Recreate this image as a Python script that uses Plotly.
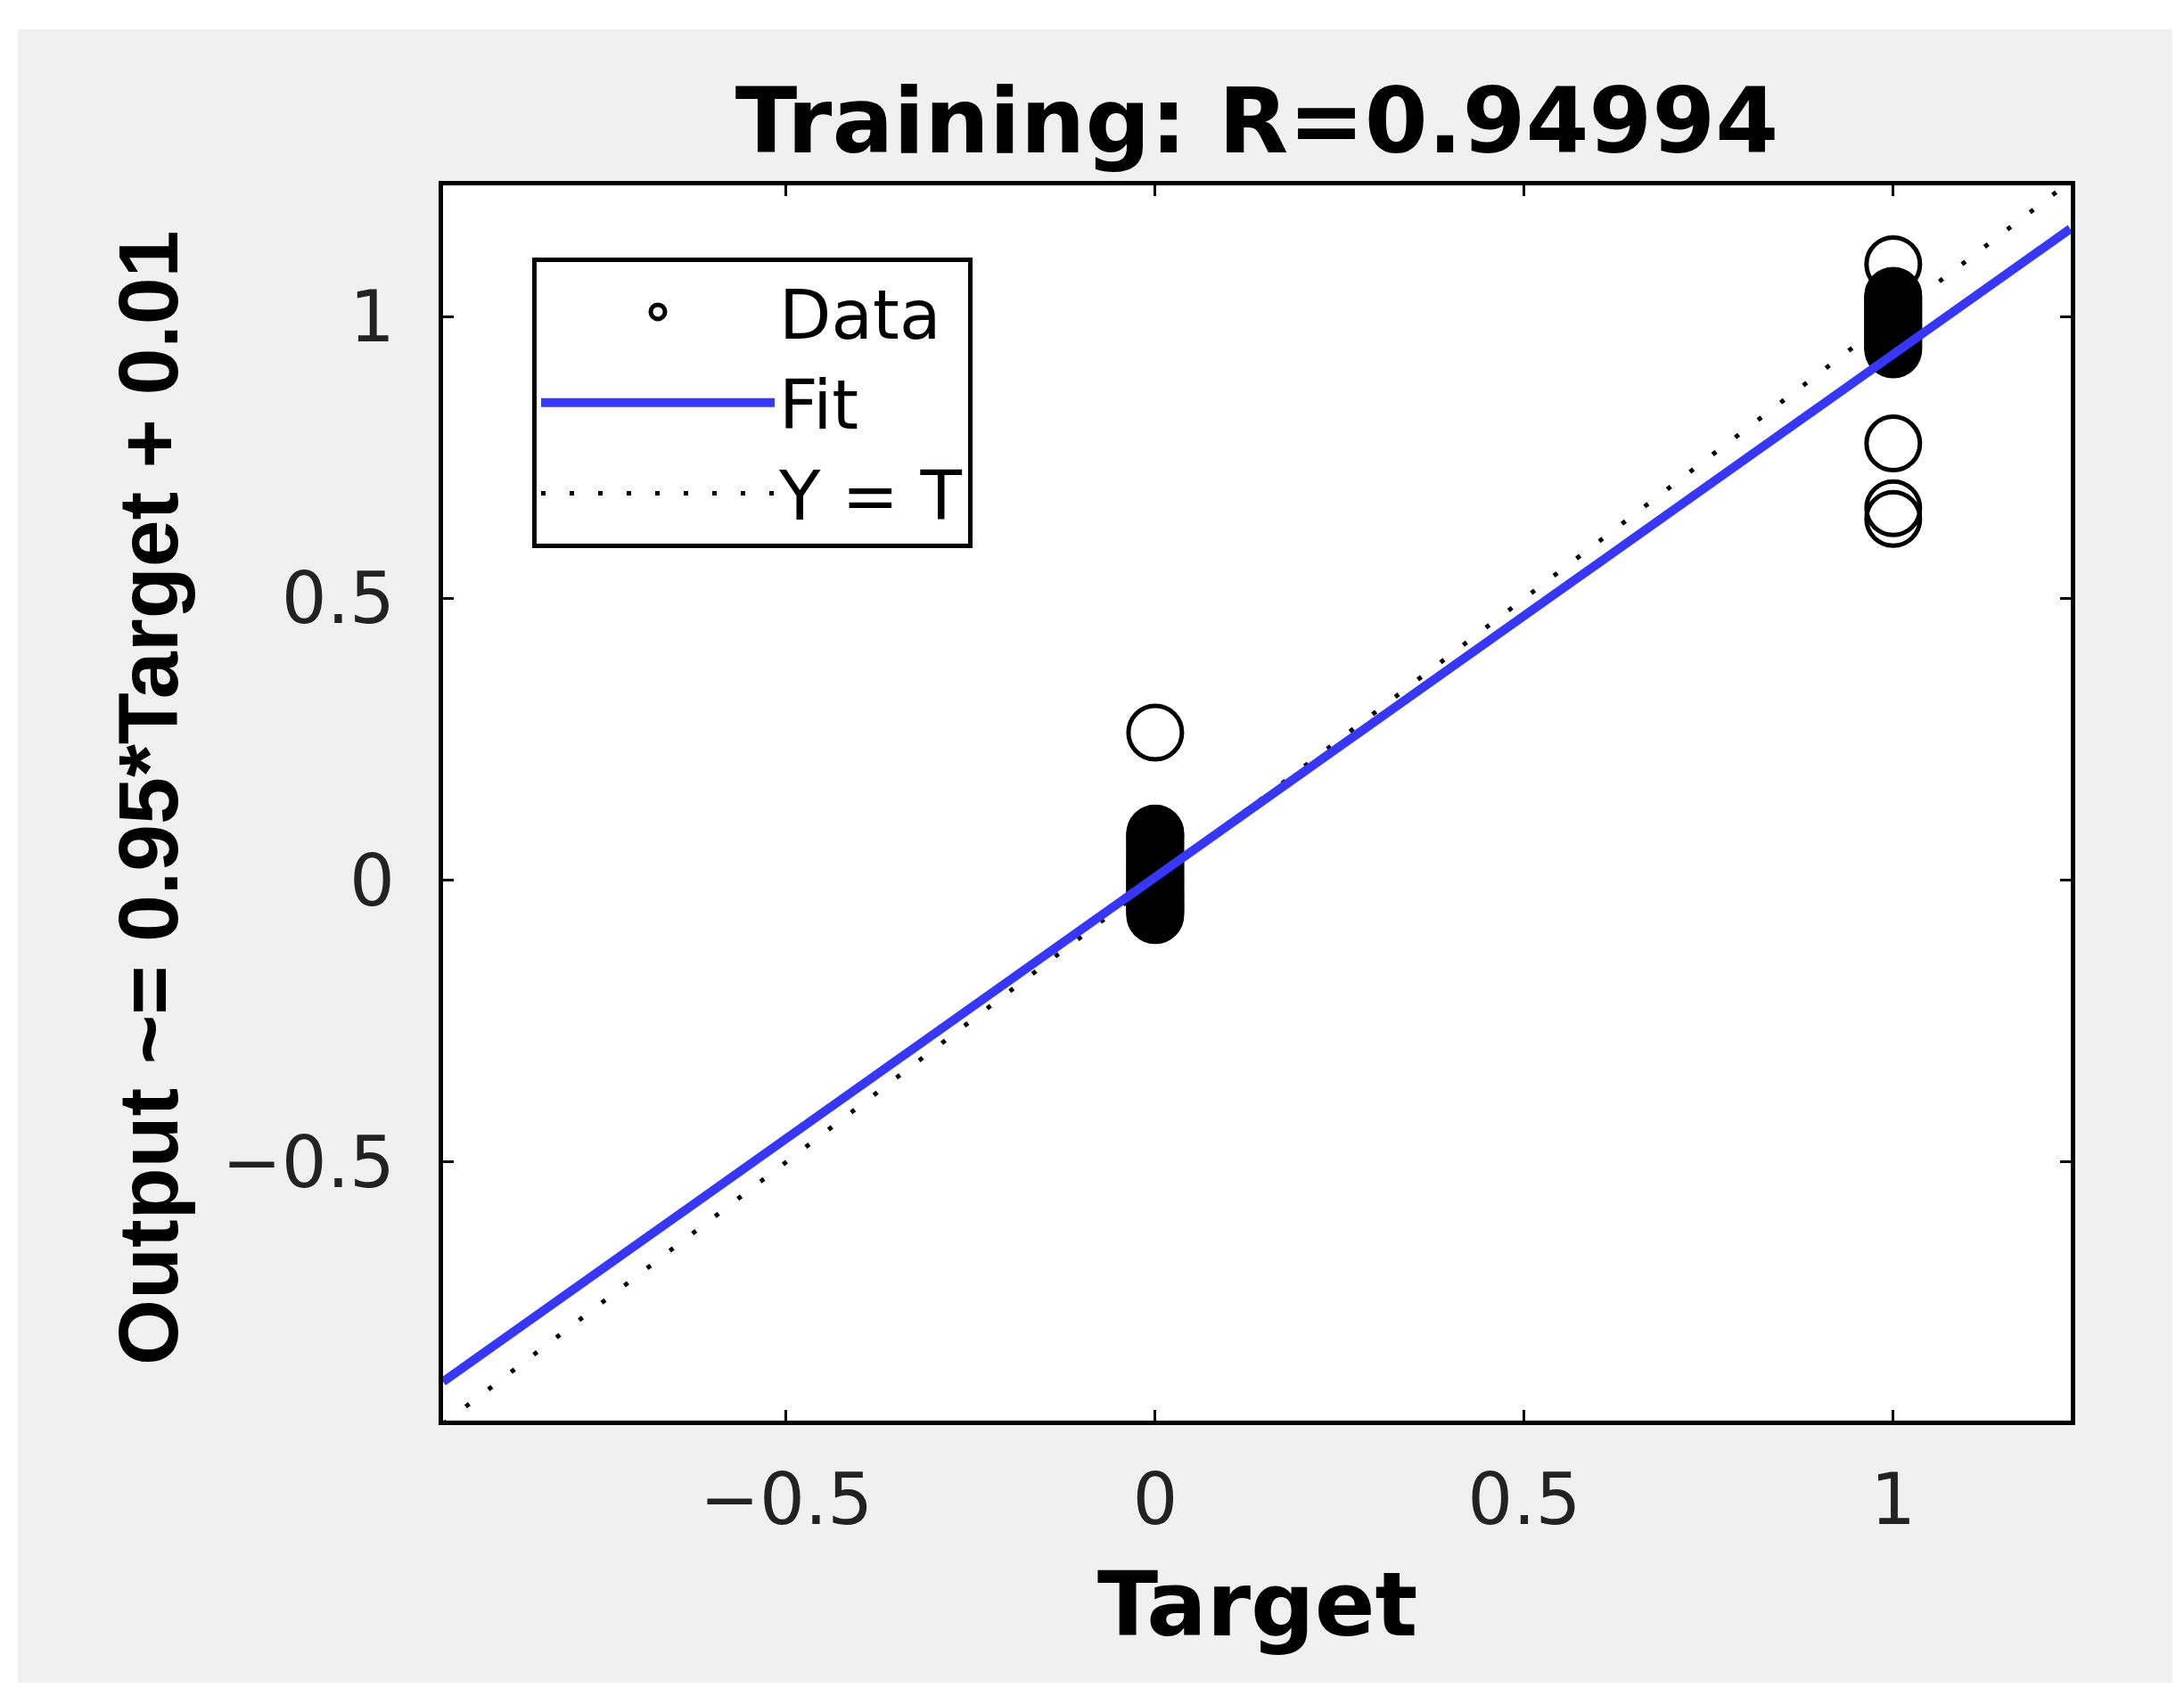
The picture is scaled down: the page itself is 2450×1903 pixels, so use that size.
import plotly.graph_objects as go

# ---- data ----
target_zero_outputs = [-0.062, -0.057, -0.053, -0.049, -0.045, -0.041, -0.037, -0.033, -0.029,
                       -0.025, -0.021, -0.017, -0.013, -0.009, -0.005, -0.001, 0.003, 0.007,
                       0.011, 0.015, 0.019, 0.023, 0.027, 0.031, 0.036, 0.041, 0.046, 0.051,
                       0.056, 0.061, 0.066, 0.071, 0.076, 0.080, 0.083, 0.262]
target_one_outputs = [0.942, 0.946, 0.950, 0.954, 0.958, 0.962, 0.966, 0.970, 0.974, 0.978,
                      0.982, 0.986, 0.990, 0.994, 0.998, 1.002, 1.006, 1.010, 1.014, 1.018,
                      1.022, 1.026, 1.030, 1.034, 1.037, 1.093, 0.775, 0.660, 0.641]
fit_x = [-0.965, 1.240]
fit_y = [-0.890, 1.156]
identity_x = [-0.965, 1.240]
identity_y = [-0.965, 1.240]
x_range = [-0.965, 1.2406]
y_range = [-0.959, 1.233]
tick_vals = [-0.5, 0, 0.5, 1]
tick_text = ["\u22120.5", "0", "0.5", "1"]

title_text = "Training: R=0.94994"
x_title = "Target"
y_title = "Output ~= 0.95*Target + 0.01"

data_x = [0] * len(target_zero_outputs) + [1] * len(target_one_outputs)
data_y = target_zero_outputs + target_one_outputs

W, H = 2450, 1903
L, R, T, B = 497, 2323, 208, 1594
pw, ph = R - L, B - T

def px_x(p):
    return (p - L) / pw

def px_y(p):
    return (B - p) / ph

fig = go.Figure()
fig.add_trace(go.Scatter(
    x=data_x, y=data_y, mode="markers", name="Data", legendrank=1,
    marker=dict(symbol="circle-open", size=60, color="black", line=dict(width=5, color="black")),
))
fig.add_trace(go.Scatter(
    x=identity_x, y=identity_y, mode="lines", name="Y = T", legendrank=3,
    line=dict(color="black", width=5, dash="5px,27px"),
))
fig.add_trace(go.Scatter(
    x=fit_x, y=fit_y, mode="lines", name="Fit", legendrank=2,
    line=dict(color="rgb(55,55,250)", width=10),
))

axis_common = dict(
    showline=True, linecolor="black", linewidth=5, mirror="ticks",
    ticks="inside", ticklen=12, tickwidth=3, tickcolor="black",
    showgrid=False, zeroline=False,
    tickvals=tick_vals, ticktext=tick_text,
    tickfont=dict(family="DejaVu Sans", size=80, color="#222222"),
)

fig.update_xaxes(range=x_range, ticklabelstandoff=15, **axis_common)
fig.update_yaxes(range=y_range, ticklabelstandoff=33, **axis_common)

fig.update_layout(
    width=W, height=H,
    margin=dict(l=L, r=W - R, t=T, b=H - B, pad=0),
    paper_bgcolor="white", plot_bgcolor="white",
    title=dict(text=title_text, x=0.5, xref="paper", y=1 - 135 / H, yref="container",
               xanchor="center", yanchor="middle",
               font=dict(family="DejaVu Sans", size=102, color="black", weight="bold")),
    showlegend=True,
    legend=dict(x=px_x(597), y=px_y(289), xanchor="left", yanchor="top",
                bgcolor="white", bordercolor="black", borderwidth=5,
                itemwidth=262,
                font=dict(family="DejaVu Sans", size=76, color="black")),
    shapes=[
        dict(type="rect", xref="paper", yref="paper", layer="below",
             x0=px_x(20), x1=px_x(2437), y0=px_y(1888), y1=px_y(33),
             fillcolor="#F0F0F0", line=dict(width=0)),
        dict(type="rect", xref="paper", yref="paper", layer="below",
             x0=0, x1=1, y0=0, y1=1, fillcolor="white", line=dict(width=0)),
    ],
    annotations=[
        dict(text=x_title, xref="paper", yref="paper", x=0.5, y=px_y(1800),
             xanchor="center", yanchor="middle", showarrow=False,
             font=dict(family="DejaVu Sans", size=100, color="black", weight="bold")),
        dict(text=y_title, xref="paper", yref="paper", x=px_x(166), y=px_y(896),
             xanchor="center", yanchor="middle", showarrow=False, textangle=-90,
             font=dict(family="Liberation Sans", size=95, color="black", weight="bold")),
    ],
)

fig.write_html("out.html", config={"displayModeBar": False},
               post_script="document.body.style.margin='0';")
